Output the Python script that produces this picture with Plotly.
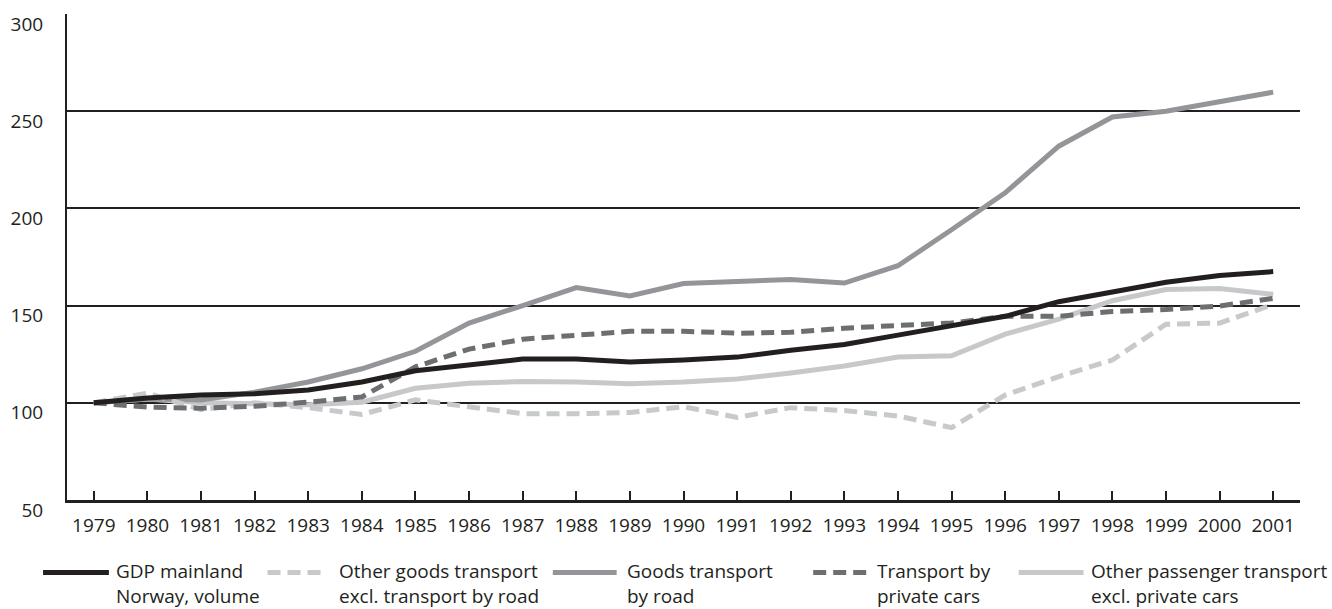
import plotly.graph_objects as go

years = list(range(1979, 2002))

gdp_mainland = [100, 102.5, 104, 104.6, 106.6, 110.7, 116.5, 119.4, 122.5, 122.5, 121, 122,
                123.5, 127, 130, 134.8, 139.4, 144.5, 152, 157, 162, 165.5, 167.5]
other_goods = [100, 105, 96.5, 100, 97.5, 94, 101.5, 97.8, 94.4, 94.4, 95, 98,
               92.5, 97.5, 96, 93.2, 87.2, 104, 113.5, 122, 140.4, 141, 150.6]
goods_road = [100, 102, 101.5, 105.5, 110.7, 117.5, 126.5, 141, 150, 159.3, 155, 161.4,
              162.4, 163.4, 161.6, 170.5, 189, 208, 232, 247, 250, 254.6, 259.8]
private_cars = [100, 97.8, 97.2, 98.2, 100.3, 103, 118.5, 127.6, 132.7, 135, 136.8, 136.8,
                135.8, 136.3, 138.4, 139.8, 141, 144.5, 144.5, 147, 148, 149.8, 153.7]
other_passenger = [100, 102, 100, 99.5, 99, 100.3, 107.5, 110, 111, 110.7, 109.8, 110.7,
                   112.3, 115.3, 118.9, 123.6, 124.2, 135.3, 143, 152.5, 158.3, 158.8, 155.8]

y_ticks = [50, 100, 150, 200, 250, 300]

names = ["GDP mainland<br>Norway, volume",
         "Other goods transport<br>excl. transport by road",
         "Goods transport<br>by road",
         "Transport by<br>private cars",
         "Other passenger transport<br>excl. private cars"]
colors = ["#231f20", "#c8c9cb", "#939598", "#6d6e71", "#c7c8ca"]
dashes = ["solid", "13px,7px", "solid", "13px,7px", "solid"]
widths = [5, 5, 5, 5, 5]
series = [gdp_mainland, other_goods, goods_road, private_cars, other_passenger]

FONT = "Open Sans"
TXT = "#231f20"

fig = go.Figure()
draw_order = [4, 2, 1, 3, 0]
for i in draw_order:
    fig.add_trace(go.Scatter(x=years, y=series[i], mode="lines", name=names[i],
                             line=dict(color=colors[i], width=widths[i], dash=dashes[i]),
                             showlegend=False))

# custom legend (layout positions in pixels -> paper coords)
W0, W1, H0, H1 = 64, 1300, 11, 500
def px(x):
    return (x - W0) / (W1 - W0)
def py(y):
    return (H1 - y) / (H1 - H0)

sym_x = [(40, 106), (265, 322), (551, 615), (812, 866), (1018, 1083)]
txt_x = [111, 335, 623, 874, 1088]
sym_y = 573
shapes = []
annotations = []
for i in range(5):
    shapes.append(dict(type="line", xref="paper", yref="paper",
                       x0=px(sym_x[i][0]), x1=px(sym_x[i][1]), y0=py(sym_y), y1=py(sym_y),
                       line=dict(color=colors[i], width=5, dash=dashes[i])))
    annotations.append(dict(xref="paper", yref="paper", x=px(txt_x[i]), y=py(556),
                            xanchor="left", yanchor="top", align="left", showarrow=False,
                            text=names[i], font=dict(family=FONT, size=19, color=TXT)))

fig.update_layout(
    width=1332, height=609,
    margin=dict(l=W0, r=1332 - W1, t=H0, b=609 - H1),
    paper_bgcolor="white", plot_bgcolor="white",
    font=dict(family=FONT, size=19, color=TXT),
    shapes=shapes, annotations=annotations,
    showlegend=False,
    xaxis=dict(range=[1978.5, 2001.5], tickvals=years, ticktext=[str(y) for y in years],
               ticks="inside", ticklen=9, tickwidth=2, tickcolor=TXT,
               showline=True, linecolor=TXT, linewidth=2.5, showgrid=False, zeroline=False,
               ticklabelstandoff=6, tickfont=dict(family=FONT, size=19, color=TXT)),
    yaxis=dict(range=[50, 300], tickvals=y_ticks, showgrid=True, gridcolor=TXT, gridwidth=2,
               showline=True, linecolor=TXT, linewidth=2, zeroline=False, ticks="",
               ticklabelstandoff=18, ticklabelshift=10,
               tickfont=dict(family=FONT, size=19, color=TXT)),
)

fig.write_html("out.html", config={"displayModeBar": False},
               post_script="document.body.style.margin='0';document.body.style.padding='0';")
